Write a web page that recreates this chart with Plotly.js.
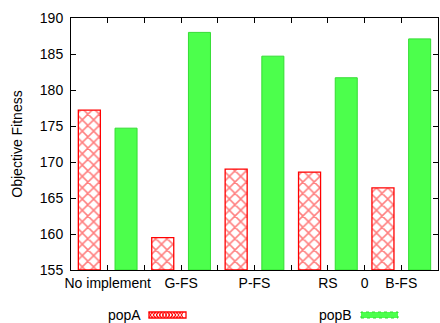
<!DOCTYPE html>
<html>
<head>
<meta charset="utf-8">
<script src="https://cdn.plot.ly/plotly-3.0.1.min.js"></script>
<style>html,body{margin:0;padding:0;background:#fff;}#chart{width:440px;height:323px;}</style>
</head>
<body>
<div id="chart"></div>
<script>
// Data
const seriesNames = ["popA", "popB"];
const popA = [177.2, 159.5, 169.0, 168.6, 166.4];
const popB = [174.7, 188.0, 184.7, 181.7, 187.1];
// x tick labels and the integer positions they sit at (gnuplot-style numeric axis)
const tickLabels = ["No implement", "G-FS", "P-FS", "RS", "0", "B-FS"];
const tickLabelPos = [1, 3, 5, 7, 8, 9];
const yMin = 155, yMax = 190;

const xA = popA.map((_, i) => 2 * i + 0.5);
const xB = popB.map((_, i) => 2 * i + 1.5);

const tickVals = [];
const tickText = [];
for (let v = 0; v <= 10; v++) {
  tickVals.push(v);
  const k = tickLabelPos.indexOf(v);
  tickText.push(k >= 0 ? tickLabels[k] : "");
}

const FONT = "Liberation Sans, Arial, sans-serif";

const traces = [
  {
    type: "bar", name: seriesNames[0], x: xA, y: popA.map(v => v - yMin), base: yMin, width: 0.6,
    marker: {
      color: "#ffffff",
      line: { color: "#ff0000", width: 1.3 },
      pattern: { shape: "x", fgcolor: "#ff0000", bgcolor: "#ffffff", size: 8, solidity: 0.35, fillmode: "overlay" }
    },
    showlegend: false, hoverinfo: "skip"
  },
  {
    type: "bar", name: seriesNames[1], x: xB, y: popB.map(v => v - yMin), base: yMin, width: 0.6,
    marker: { color: "#4cff4c", line: { color: "#33dd33", width: 1 } },
    showlegend: false, hoverinfo: "skip"
  }
];

// legend sample hatch path (pixel offsets from plot-area bottom-left)
function hatchPath(x0, x1, yb, yt) {
  const step = 3.1;
  let p1 = "M" + x0 + "," + yb, p2 = "M" + x0 + "," + yt;
  let up = true;
  for (let x = x0 + step; x <= x1 + 0.01; x += step) {
    p1 += " L" + x.toFixed(1) + "," + (up ? yt : yb);
    p2 += " L" + x.toFixed(1) + "," + (up ? yb : yt);
    up = !up;
  }
  return p1 + " " + p2;
}

const layout = {
  width: 440, height: 323,
  margin: { l: 71, r: 2, t: 18, b: 53 },
  paper_bgcolor: "#ffffff", plot_bgcolor: "#ffffff",
  font: { family: FONT, size: 14, color: "#000000" },
  showlegend: false,
  barmode: "overlay",
  xaxis: {
    range: [0, 10], tickmode: "array", tickvals: tickVals, ticktext: tickText,
    ticks: "inside", ticklen: 5, tickcolor: "#000", tickwidth: 1,
    showline: true, linecolor: "#000", linewidth: 1, mirror: "ticks",
    showgrid: false, zeroline: false, tickfont: { size: 14 }, fixedrange: true
  },
  yaxis: {
    range: [yMin, yMax], tickmode: "linear", tick0: yMin, dtick: 5,
    ticks: "inside", ticklen: 5, tickcolor: "#000", tickwidth: 1,
    showline: true, linecolor: "#000", linewidth: 1, mirror: "ticks",
    showgrid: false, zeroline: false, tickfont: { size: 14 }, ticklabelstandoff: 4,
    title: { text: "Objective Fitness", font: { size: 14 }, standoff: 13 }, fixedrange: true
  },
  annotations: [
    { text: seriesNames[0], xref: "paper", yref: "paper", x: 0, y: 0, xshift: 72, yshift: -45,
      xanchor: "right", yanchor: "middle", showarrow: false, font: { size: 14 } },
    { text: seriesNames[1], xref: "paper", yref: "paper", x: 0, y: 0, xshift: 283, yshift: -45,
      xanchor: "right", yanchor: "middle", showarrow: false, font: { size: 14 } }
  ],
  shapes: [
    { type: "rect", xref: "paper", yref: "paper", xsizemode: "pixel", ysizemode: "pixel",
      xanchor: 0, yanchor: 0, x0: 78, x1: 115, y0: -48, y1: -42,
      fillcolor: "#ffffff", line: { color: "#ff0000", width: 1.3 } },
    { type: "path", xref: "paper", yref: "paper", xsizemode: "pixel", ysizemode: "pixel",
      xanchor: 0, yanchor: 0, path: hatchPath(78, 115, -48, -42),
      line: { color: "#ff0000", width: 1 } },
    { type: "rect", xref: "paper", yref: "paper", xsizemode: "pixel", ysizemode: "pixel",
      xanchor: 0, yanchor: 0, x0: 290, x1: 327, y0: -48, y1: -42,
      fillcolor: "#4cff4c", line: { color: "#33dd33", width: 1, dash: "dot" } }
  ]
};

Plotly.newPlot("chart", traces, layout, { displayModeBar: false, staticPlot: true });
</script>
</body>
</html>
